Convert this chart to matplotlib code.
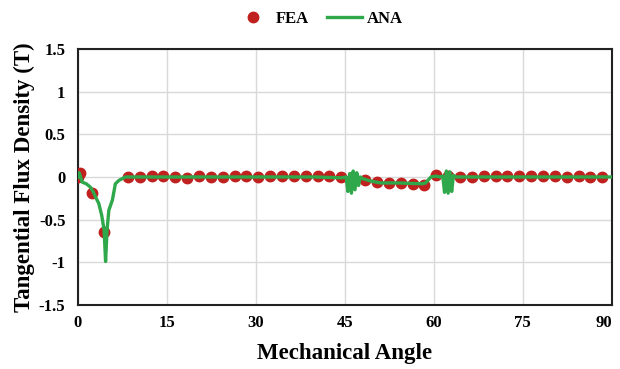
import numpy as np
import matplotlib.pyplot as plt

plt.rcParams['font.family'] = 'Liberation Serif'
plt.rcParams['font.weight'] = 'bold'
plt.rcParams['axes.labelweight'] = 'bold'

# FEA samples (degrees, tesla)
fea_angle = [0.0, 0.4, 2.4, 4.4] + [8.4 + 2 * k for k in range(41)]
fea_bt = [0.0, 0.05, -0.19, -0.65,
          0.0, 0.0, 0.01, 0.01, 0.0, -0.01, 0.01, 0.0, 0.0, 0.01,
          0.01, 0.0, 0.01, 0.01, 0.01, 0.01, 0.01, 0.01, 0.0, 0.0,
          -0.03, -0.06, -0.07, -0.07, -0.08, -0.09, 0.02, 0.01, 0.0, 0.0,
          0.01, 0.01, 0.01, 0.01, 0.01, 0.01, 0.01, 0.0, 0.01, 0.0,
          0.0]

# analytical curve
ana_angle = [0.0, 0.2, 0.7, 1.4, 2.1, 2.6, 3.0, 3.5, 4.0, 4.4, 4.65, 4.9,
             5.2, 5.8, 6.3, 6.9, 8.0, 12.0, 20.0, 30.0, 40.0, 44.5, 45.2,
             45.5, 45.8, 46.1, 46.4, 46.7, 47.0, 47.3, 47.6, 48.0, 49.5, 51.0,
             54.0, 58.0, 58.6, 59.5, 60.3, 61.0, 61.5, 61.8, 62.1, 62.4, 62.7,
             63.0, 63.3, 63.7, 64.5, 70.0, 80.0, 90.0]
ana_bt = [0.0, 0.05, -0.06, -0.08, -0.12, -0.18, -0.24, -0.31, -0.45, -0.62,
          -0.99, -0.62, -0.39, -0.27, -0.08, -0.04, 0.0, 0.0, 0.0, 0.0, 0.0,
          -0.01, 0.0, -0.17, 0.04, -0.19, 0.07, -0.15, 0.05, -0.1, 0.0,
          -0.02, -0.05, -0.07, -0.07, -0.08, -0.07, 0.0, 0.01, 0.0, 0.01,
          -0.18, 0.07, -0.19, 0.06, -0.17, 0.02, 0.0, 0.0, 0.0, 0.0, 0.0]

fig = plt.figure(figsize=(6.2, 3.69), dpi=100)
ax = fig.add_axes([0.1258, 0.1734, 0.861, 0.694])

ax.plot(fea_angle, fea_bt, 'o', color='#C0201E', markersize=7.5, label='FEA', zorder=3)
ax.plot(ana_angle, ana_bt, '-', color='#2EA84A', linewidth=2.4, label='ANA', zorder=4)

ax.set_xlim(0, 90)
ax.set_ylim(-1.5, 1.5)
ax.set_xticks(np.arange(0, 91, 15))
ax.set_yticks(np.arange(-1.5, 1.51, 0.5))
ax.set_yticklabels(['-1.5', '-1', '-0.5', '0', '0.5', '1', '1.5'])
ax.tick_params(length=0, labelsize=12)
ax.tick_params(axis='y', pad=9)
ax.tick_params(axis='x', pad=7)
# keep the last angle label inside the figure
ax.get_xticklabels()[-1].set_horizontalalignment('right')
ax.grid(True, color='#D9D9D9', linewidth=1)
ax.set_axisbelow(True)
for s in ax.spines.values():
    s.set_linewidth(1.5)
    s.set_color('#222222')

ax.set_xlabel('Mechanical Angle', fontsize=16.5, labelpad=9)
ax.set_ylabel('Tangential Flux Density (T)', fontsize=16.5, labelpad=3)

fig.legend(loc='upper center', bbox_to_anchor=(0.515, 1.012), ncol=2, frameon=False,
           fontsize=12, handlelength=2.1, columnspacing=1.1, handletextpad=0.3)

fig.savefig('out.png', dpi=100)
